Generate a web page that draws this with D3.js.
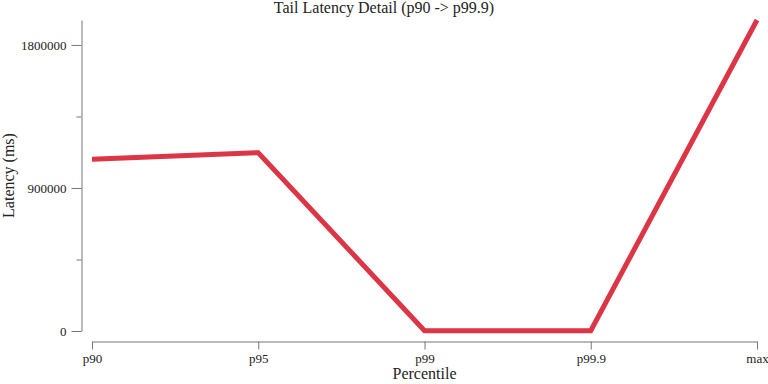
<!DOCTYPE html>
<html>
<head>
<meta charset="utf-8">
<script src="https://cdn.jsdelivr.net/npm/d3@7"></script>
<style>
  body { margin: 0; background: #fff; }
  svg { font-family: "Liberation Serif", "Times New Roman", serif; }
</style>
</head>
<body>
<div id="chart"></div>
<script>
// data
const percentiles = ["p90", "p95", "p99", "p99.9", "max"];
const latencyMs = [1080000, 1122000, 2000, 2000, 1957000];
const yTicks = [0, 450000, 900000, 1350000, 1800000];
const yLabelledTicks = [0, 900000, 1800000];

const width = 768, height = 384;
const margin = {top: 20, right: 11, bottom: 53, left: 92};

const svg = d3.select("#chart").append("svg")
    .attr("width", width)
    .attr("height", height);

let x = d3.scalePoint()
    .domain(percentiles)
    .range([margin.left, width - margin.right]);

let y = d3.scaleLinear()
    .domain([0, d3.max(latencyMs)])
    .range([height - margin.bottom, margin.top]);

// y axis, pulled 10px away from the plot
let yAxis = svg.append("g")
    .attr("class", "y_axis")
    .attr("transform", `translate(${margin.left - 10.5}, 0)`)
    .call(d3.axisLeft(y)
        .tickValues(yTicks)
        .tickSize(10)
        .tickSizeOuter(0)
        .tickPadding(5)
        .tickFormat(d => yLabelledTicks.includes(d) ? d3.format("d")(d) : ""));

// minor ticks are shorter
yAxis.selectAll(".tick")
    .filter(d => !yLabelledTicks.includes(d))
    .select("line")
    .attr("x2", -5);

// x axis, also offset below
let xAxis = svg.append("g")
    .attr("class", "x_axis")
    .attr("transform", `translate(0, ${height - margin.bottom + 10.5})`)
    .call(d3.axisBottom(x)
        .tickSize(8)
        .tickSizeOuter(0)
        .tickPadding(4));

svg.selectAll(".x_axis path, .y_axis path, .x_axis line, .y_axis line")
    .attr("stroke", "#777");
svg.selectAll(".x_axis text, .y_axis text")
    .attr("fill", "#222")
    .style("font-size", "13px")
    .style("font-family", "Liberation Serif, serif");

// the line
let line = d3.line()
    .x((d, i) => x(percentiles[i]))
    .y(d => y(d));

svg.append("path")
    .datum(latencyMs)
    .attr("d", line)
    .attr("fill", "none")
    .attr("stroke", "#dc3545")
    .attr("stroke-width", 5);

// title and labels
svg.append("text")
    .attr("x", width / 2)
    .attr("y", 13)
    .attr("text-anchor", "middle")
    .style("font-size", "16px")
    .attr("fill", "#222")
    .text("Tail Latency Detail (p90 -> p99.9)");

svg.append("text")
    .attr("x", (margin.left + width - margin.right) / 2)
    .attr("y", 379)
    .attr("text-anchor", "middle")
    .style("font-size", "16px")
    .attr("fill", "#222")
    .text("Percentile");

svg.append("text")
    .attr("transform", `translate(14, ${(margin.top + height - margin.bottom) / 2}) rotate(-90)`)
    .attr("text-anchor", "middle")
    .style("font-size", "16px")
    .attr("fill", "#222")
    .text("Latency (ms)");
</script>
</body>
</html>
